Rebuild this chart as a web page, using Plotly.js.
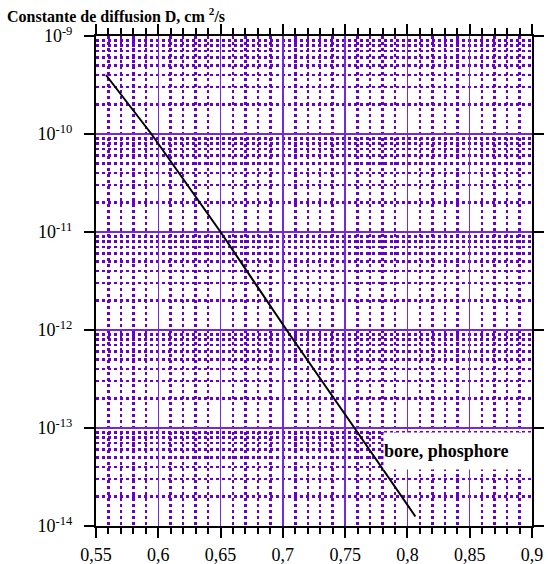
<!DOCTYPE html>
<html>
<head>
<meta charset="utf-8">
<script src="https://cdn.plot.ly/plotly-3.0.1.min.js"></script>
<style>html,body{margin:0;padding:0;background:#fff}#chart{width:548px;height:564px}</style>
</head>
<body>
<div id="chart"></div>
<script>
// Data
const temperatureX = [0.558, 0.5945, 0.65, 0.703, 0.7575, 0.8064];
const diffusionD = [4.0e-10, 1.0e-10, 1.0e-11, 1.0e-12, 1.0e-13, 1.25e-14];
const yTickVals = [1e-9, 1e-10, 1e-11, 1e-12, 1e-13, 1e-14];
const yTickText = ['10<sup>-9</sup>', '10<sup>-10</sup>', '10<sup>-11</sup>', '10<sup>-12</sup>', '10<sup>-13</sup>', '10<sup>-14</sup>'];
const titleText = '<b>Constante de diffusion D, cm <sup>2</sup>/s</b>';
const labelText = '<b>bore, phosphore</b>';

const fontFamily = 'Liberation Serif';
const majorGrid = '#7428e0';
const minorGrid = '#6600cc';

const trace = {
  x: temperatureX, y: diffusionD, type: 'scatter', mode: 'lines',
  line: {color: '#000000', width: 2}, hoverinfo: 'skip', showlegend: false
};

const layout = {
  width: 548, height: 564,
  margin: {l: 96, r: 15.5, t: 36, b: 38},
  paper_bgcolor: '#ffffff', plot_bgcolor: '#ffffff',
  separators: ', ',
  font: {family: fontFamily, size: 18, color: '#000000'},
  title: {text: titleText, x: 7/548, xanchor: 'left', xref: 'container',
          y: 1 - 16/564, yanchor: 'middle', yref: 'container',
          font: {family: fontFamily, size: 16, color: '#000000'}},
  xaxis: {
    range: [0.55, 0.9], dtick: 0.05, tick0: 0.55,
    showline: true, linecolor: '#000000', linewidth: 2, mirror: 'ticks',
    ticks: 'outside', ticklen: 10, tickwidth: 2, tickcolor: '#000000',
    showgrid: true, gridcolor: majorGrid, gridwidth: 1.5, zeroline: false,
    tickfont: {family: fontFamily, size: 18, color: '#000000'},
    ticklabelstandoff: 1,
    minor: {dtick: 0.01, tick0: 0.55, ticks: 'outside', ticklen: 6, tickwidth: 2, tickcolor: '#000000',
            showgrid: true, gridcolor: minorGrid, gridwidth: 2.5, griddash: 'dot'},
    fixedrange: true
  },
  yaxis: {
    type: 'log', range: [-14, -9],
    tickvals: yTickVals, ticktext: yTickText,
    showline: true, linecolor: '#000000', linewidth: 2, mirror: 'ticks',
    ticks: 'outside', ticklen: 10, tickwidth: 2, tickcolor: '#000000',
    showgrid: true, gridcolor: majorGrid, gridwidth: 1.5, zeroline: false,
    tickfont: {family: fontFamily, size: 18, color: '#000000'},
    ticklabelstandoff: 8,
    minor: {dtick: 'D1', showgrid: true, gridcolor: minorGrid, gridwidth: 2.5, griddash: 'dot', ticks: ''},
    fixedrange: true
  },
  annotations: [{
    text: labelText, xref: 'paper', yref: 'paper',
    x: (383 - 96) / 436.5, xanchor: 'left', y: (526 - 451) / 490, yanchor: 'middle',
    showarrow: false, bgcolor: '#ffffff', width: 147, height: 36, align: 'left', borderpad: 0,
    font: {family: fontFamily, size: 18, color: '#000000'}
  }]
};

Plotly.newPlot('chart', [trace], layout, {displayModeBar: false, staticPlot: true});
</script>
</body>
</html>
